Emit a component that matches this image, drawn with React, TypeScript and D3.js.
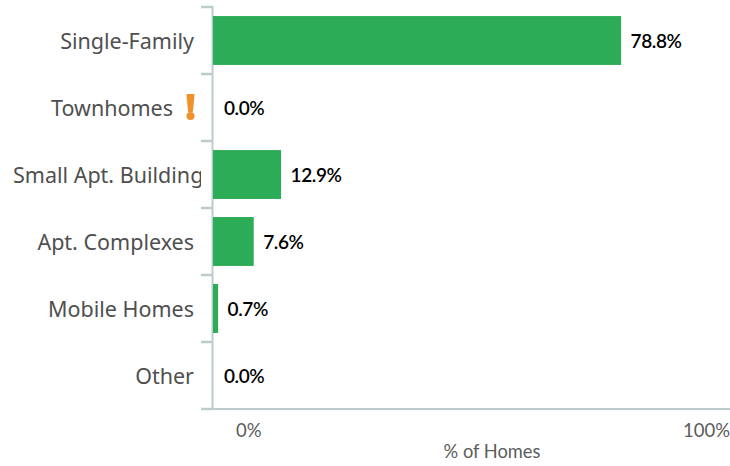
/**
 * HomeTypes
 * Horizontal bar chart of the share of homes by building type
 */

import { useEffect, useRef } from 'react';
import * as d3 from 'd3';

const CATEGORIES = [
  'Single-Family',
  'Townhomes',
  'Small Apt. Buildings',
  'Apt. Complexes',
  'Mobile Homes',
  'Other',
];
const VALUES = [78.8, 0, 12.9, 7.6, 0.7, 0];
const VALUE_LABELS = ['78.8%', '0.0%', '12.9%', '7.6%', '0.7%', '0.0%'];
const FLAGGED = ['Townhomes'];
const X_TICKS = [0, 100];
const X_TICK_LABELS = ['0%', '100%'];

const GREEN = '#2dac58';
const AXIS = '#bccbcb';
const LABEL = '#4f4f4f';
const ORANGE = '#f0922b';
const LATO = 'Lato, sans-serif';
const LABEL_FONT = '"Noto Sans", sans-serif';

const WIDTH = 730;
const HEIGHT = 466;

export default function App() {
  const svgRef = useRef<SVGSVGElement>(null);

  useEffect(() => {
    if (!svgRef.current) return;

    const svg = d3.select(svgRef.current);
    svg.selectAll('*').remove();

    const margin = { top: 7, bottom: 57, left: 213 };
    const innerHeight = HEIGHT - margin.top - margin.bottom;

    const y = d3
      .scaleBand()
      .domain(CATEGORIES)
      .range([margin.top, margin.top + innerHeight])
      .paddingInner(0.27)
      .paddingOuter(0.135);
    const step = y.step();

    // Zero sits a little right of the axis line, bars still start at the line
    const x = d3.scaleLinear().domain([0, 100]).range([214.5, 730.5]);

    // Labels get cut off where the tick marks begin
    svg
      .append('clipPath')
      .attr('id', 'label-clip')
      .append('rect')
      .attr('x', 0)
      .attr('y', 0)
      .attr('width', 201)
      .attr('height', HEIGHT);

    // Tick marks between the bands
    const bounds = d3.range(CATEGORIES.length + 1).map((i) => margin.top + i * step);
    svg
      .selectAll('line.tick-mark')
      .data(bounds)
      .join('line')
      .attr('class', 'tick-mark')
      .attr('x1', 201)
      .attr('x2', margin.left)
      .attr('y1', (d) => d)
      .attr('y2', (d) => d)
      .attr('stroke', AXIS)
      .attr('stroke-width', 2.5);

    // Axis lines
    svg
      .append('line')
      .attr('x1', margin.left - 0.5)
      .attr('x2', margin.left - 0.5)
      .attr('y1', margin.top - 1)
      .attr('y2', margin.top + innerHeight)
      .attr('stroke', AXIS)
      .attr('stroke-width', 2);
    svg
      .append('line')
      .attr('x1', 201)
      .attr('x2', WIDTH)
      .attr('y1', margin.top + innerHeight)
      .attr('y2', margin.top + innerHeight)
      .attr('stroke', AXIS)
      .attr('stroke-width', 2);

    // Bars
    svg
      .selectAll('rect.bar')
      .data(CATEGORIES.filter((_, i) => VALUES[i] > 0))
      .join('rect')
      .attr('class', 'bar')
      .attr('x', margin.left)
      .attr('y', (d) => y(d) || 0)
      .attr('width', (d) => x(VALUES[CATEGORIES.indexOf(d)]) - margin.left)
      .attr('height', y.bandwidth())
      .attr('fill', GREEN);

    // Value labels
    svg
      .selectAll('text.value')
      .data(CATEGORIES)
      .join('text')
      .attr('class', 'value')
      .attr('x', (_, i) => x(VALUES[i]) + 9.5)
      .attr('y', (d) => (y(d) || 0) + y.bandwidth() / 2 + 7)
      .attr('font-family', LATO)
      .attr('font-size', 19)
      .attr('font-weight', 600)
      .attr('letter-spacing', -0.4)
      .attr('fill', '#000')
      .text((_, i) => VALUE_LABELS[i]);

    // Category labels
    svg
      .selectAll('text.category')
      .data(CATEGORIES)
      .join('text')
      .attr('class', 'category')
      .attr('clip-path', 'url(#label-clip)')
      .attr('x', (d) => (d === 'Small Apt. Buildings' ? 13 : FLAGGED.includes(d) ? 173 : 194))
      .attr('y', (d) => (y(d) || 0) + y.bandwidth() / 2 + 8)
      .attr('text-anchor', (d) => (d === 'Small Apt. Buildings' ? 'start' : 'end'))
      .attr('font-family', LABEL_FONT)
      .attr('font-size', 21.5)
      .attr('fill', LABEL)
      .text((d) => d);

    // Warning mark next to flagged categories
    const flagY = (y('Townhomes') || 0) + y.bandwidth() / 2;
    const flag = svg.append('g').attr('transform', `translate(190.5,${flagY})`).attr('fill', ORANGE);
    flag
      .append('path')
      .attr('d', 'M-4,-12.5 Q-4,-13.5 -3,-13.5 L3,-13.5 Q4,-13.5 4,-12.5 L2.5,3.5 Q2.5,4.5 1.5,4.5 L-1.5,4.5 Q-2.5,4.5 -2.5,3.5 Z');
    flag.append('circle').attr('cy', 8.5).attr('r', 4);

    // X axis labels
    svg
      .selectAll('text.x-tick')
      .data(X_TICKS)
      .join('text')
      .attr('class', 'x-tick')
      .attr('x', (d) => (d === 0 ? 236 : WIDTH))
      .attr('y', 437)
      .attr('text-anchor', (d) => (d === 0 ? 'start' : 'end'))
      .attr('font-family', LATO)
      .attr('font-size', 18.5)
      .attr('fill', '#5c5c5c')
      .text((_, i) => X_TICK_LABELS[i]);

    svg
      .append('text')
      .attr('x', 492)
      .attr('y', 458)
      .attr('text-anchor', 'middle')
      .attr('font-family', LATO)
      .attr('font-size', 18.3)
      .attr('fill', '#5c5c5c')
      .text('% of Homes');
  }, []);

  return (
    <svg
      ref={svgRef}
      width={WIDTH}
      height={HEIGHT}
      style={{ position: 'absolute', left: 0, top: 0, display: 'block' }}
    />
  );
}
